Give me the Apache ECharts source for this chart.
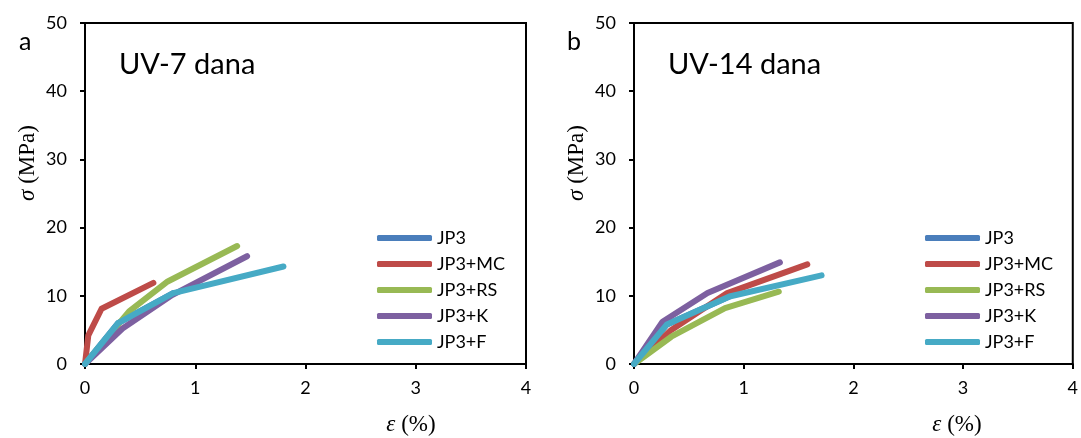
<!DOCTYPE html>
<html>
<head>
<meta charset="utf-8">
<script src="https://cdn.jsdelivr.net/npm/echarts@6/dist/echarts.min.js"></script>
<style>
html,body{margin:0;padding:0;background:#fff;}
#c{width:1081px;height:438px;}
</style>
</head>
<body>
<div id="c"></div>
<script>
// Data: strain ε (%) vs stress σ (MPa)
var seriesNames = ['JP3', 'JP3+MC', 'JP3+RS', 'JP3+K', 'JP3+F'];
var xTicks = [0, 1, 2, 3, 4];
var yTicks = [0, 10, 20, 30, 40, 50];
var panelTitles = ['UV-7 dana', 'UV-14 dana'];
var panelLetters = ['a', 'b'];
var xAxisTitle = '{i|ε} (%)';
var yAxisTitle = '{i|σ} (MPa)';

// Panel a: UV-7 dana
var a_JP3  = [[0, 0], [0.3, 6.0], [0.8, 10.4]];
var a_MC   = [[0, 0], [0.03, 4.2], [0.15, 8.1], [0.62, 11.9]];
var a_RS   = [[0, 0], [0.40, 7.7], [0.75, 12.1], [1.38, 17.3]];
var a_K    = [[0, 0], [0.34, 5.2], [0.79, 10.1], [1.47, 15.8]];
var a_F    = [[0, 0], [0.30, 6.0], [0.80, 10.4], [1.80, 14.3]];

// Panel b: UV-14 dana
var b_JP3  = [[0, 0], [0.30, 5.8], [0.87, 9.9]];
var b_MC   = [[0, 0], [0.34, 5.0], [0.85, 10.4], [1.58, 14.6]];
var b_RS   = [[0, 0], [0.34, 4.0], [0.83, 8.2], [1.32, 10.6]];
var b_K    = [[0, 0], [0.26, 6.2], [0.67, 10.4], [1.33, 14.9]];
var b_F    = [[0, 0], [0.30, 5.8], [0.87, 9.9], [1.71, 13.0]];

var colors = ['#4A7EBB', '#BE4B48', '#98B954', '#7D60A0', '#46AAC5'];
var panelData = [[a_JP3, a_MC, a_RS, a_K, a_F], [b_JP3, b_MC, b_RS, b_K, b_F]];

var tickFont = 'Lato, "Open Sans", sans-serif';
var serif = '"Liberation Serif", "DejaVu Serif", serif';
var chart = echarts.init(document.getElementById('c'));

var grids = [
  {left: 85, right: 555, top: 23, bottom: 74, show: true, borderColor: '#000', borderWidth: 2, backgroundColor: 'transparent'},
  {left: 634, right: 6, top: 23, bottom: 74, show: true, borderColor: '#000', borderWidth: 2, backgroundColor: 'transparent'}
];

function xAxis(i) {
  return {
    type: 'value', gridIndex: i, min: 0, max: 4, interval: 1,
    axisLine: {show: true, lineStyle: {color: '#000', width: 2}},
    axisTick: {show: true, inside: false, length: 5, lineStyle: {color: '#000', width: 2}},
    axisLabel: {fontFamily: tickFont, fontSize: 18, color: '#000', margin: 15,
      formatter: function (v) { return xTicks.indexOf(v) >= 0 ? String(v) : ''; }},
    splitLine: {show: false}
  };
}
function yAxis(i) {
  return {
    type: 'value', gridIndex: i, min: 0, max: 50, interval: 10,
    axisLine: {show: true, lineStyle: {color: '#000', width: 2}},
    axisTick: {show: true, inside: false, length: 5, lineStyle: {color: '#000', width: 2}},
    axisLabel: {fontFamily: tickFont, fontSize: 18, color: '#000', margin: 18,
      formatter: function (v) { return yTicks.indexOf(v) >= 0 ? String(v) : ''; }},
    splitLine: {show: false}
  };
}

var series = [];
for (var p = 0; p < 2; p++) {
  for (var s = 0; s < seriesNames.length; s++) {
    series.push({
      name: seriesNames[s], type: 'line', xAxisIndex: p, yAxisIndex: p,
      data: panelData[p][s], symbol: 'none', smooth: false, animation: false,
      lineStyle: {color: colors[s], width: 6, cap: 'round', join: 'round'},
      itemStyle: {color: colors[s]}
    });
  }
}

function legend(left) {
  return {
    data: seriesNames, orient: 'vertical', left: left, top: 224,
    icon: 'roundRect', itemWidth: 55, itemHeight: 6, itemGap: 8,
    textStyle: {fontFamily: tickFont, fontSize: 18, color: '#000'},
    selectedMode: false
  };
}

var richI = {i: {fontFamily: serif, fontStyle: 'italic', fontSize: 23, fill: '#000', color: '#000'}};
function axisTitle(x, y, text, rot) {
  return {
    type: 'text', x: x, y: y, rotation: rot, silent: true,
    style: {text: text, fontFamily: serif, fontSize: 23, fill: '#000',
      align: 'center', verticalAlign: 'middle', textAlign: 'center', textVerticalAlign: 'middle',
      rich: richI}
  };
}

var option = {
  backgroundColor: '#fff',
  animation: false,
  color: colors,
  grid: grids,
  xAxis: [xAxis(0), xAxis(1)],
  yAxis: [yAxis(0), yAxis(1)],
  legend: [legend(372), legend(920)],
  title: [
    {text: panelTitles[0], left: 114, top: 45, textStyle: {fontFamily: tickFont, fontSize: 29, fontWeight: 'normal', color: '#000'}},
    {text: panelTitles[1], left: 663, top: 45, textStyle: {fontFamily: tickFont, fontSize: 29, fontWeight: 'normal', color: '#000'}},
    {text: panelLetters[0], left: 14, top: 24, textStyle: {fontFamily: tickFont, fontSize: 25, fontWeight: 'normal', color: '#000'}},
    {text: panelLetters[1], left: 562, top: 24, textStyle: {fontFamily: tickFont, fontSize: 25, fontWeight: 'normal', color: '#000'}}
  ],
  graphic: [
    axisTitle(411, 425, xAxisTitle, 0),
    axisTitle(957, 425, xAxisTitle, 0),
    axisTitle(28, 163, yAxisTitle, Math.PI / 2),
    axisTitle(577, 163, yAxisTitle, Math.PI / 2)
  ],
  series: series
};
chart.setOption(option);
</script>
</body>
</html>
